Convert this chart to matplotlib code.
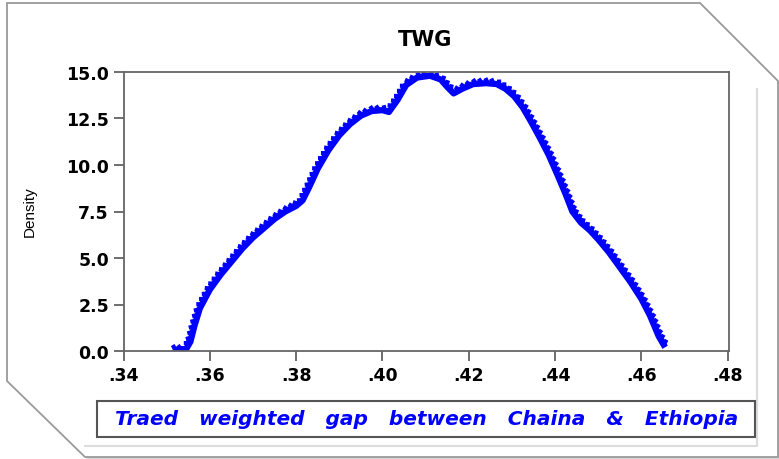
import matplotlib.pyplot as plt
from matplotlib import patheffects
from matplotlib.patches import Polygon, Rectangle
from matplotlib.lines import Line2D

# density estimate
gap = [0.3514, 0.3530, 0.3545, 0.3555, 0.3565, 0.3577, 0.3600, 0.3625, 0.3650,
       0.3675, 0.3700, 0.3725, 0.3750, 0.3775, 0.3800, 0.3815, 0.3830, 0.3850,
       0.3875, 0.3900, 0.3925, 0.3950, 0.3975, 0.4000, 0.4015, 0.4035, 0.4055,
       0.4080, 0.4110, 0.4135, 0.4150, 0.4165, 0.4185, 0.4210, 0.4240, 0.4265,
       0.4285, 0.4305, 0.4325, 0.4345, 0.4365, 0.4385, 0.4405, 0.4425, 0.4440,
       0.4460, 0.4480, 0.4500, 0.4525, 0.4550, 0.4575, 0.4600, 0.4620, 0.4640,
       0.4655]
density = [0.05, 0.05, 0.1, 0.5, 1.4, 2.3, 3.3, 4.1, 4.8,
           5.5, 6.1, 6.6, 7.1, 7.5, 7.8, 8.1, 8.8, 9.8,
           10.8, 11.6, 12.2, 12.65, 12.9, 12.95, 12.85, 13.5, 14.3,
           14.7, 14.8, 14.6, 14.2, 13.85, 14.1, 14.35, 14.4, 14.35,
           14.1, 13.7, 13.1, 12.3, 11.45, 10.55, 9.5, 8.4, 7.5,
           6.9, 6.5, 6.0, 5.3, 4.5, 3.7, 2.8, 1.9, 0.8,
           0.2]

xticks = [0.34, 0.36, 0.38, 0.40, 0.42, 0.44, 0.46, 0.48]
xtick_labels = [".34", ".36", ".38", ".40", ".42", ".44", ".46", ".48"]
yticks = [0.0, 2.5, 5.0, 7.5, 10.0, 12.5, 15.0]
ytick_labels = ["0.0", "2.5", "5.0", "7.5", "10.0", "12.5", "15.0"]

title = "TWG"
ylabel = "Density"
caption = "Traed   weighted   gap   between   Chaina   &   Ethiopia"

W, H = 779, 460
plt.rcParams['font.family'] = ['Liberation Sans', 'DejaVu Sans']
wide = ['DejaVu Sans']


def fx(px):
    return px / W


def fy(py):
    return 1 - py / H


fig = plt.figure(figsize=(W / 100, H / 100), dpi=100)

# decorative frame with bevelled corners
outline = [(7, 4), (700, 4), (778, 82), (778, 458), (85, 458), (7, 382)]
shadow = Polygon([(fx(x + 3), fy(y + 3)) for x, y in outline], closed=True,
                 transform=fig.transFigure, facecolor="#d8d8d8", edgecolor="none",
                 zorder=0)
frame = Polygon([(fx(x), fy(y)) for x, y in outline], closed=True,
                transform=fig.transFigure, facecolor="white", edgecolor="#9a9a9a",
                linewidth=1.3, zorder=0.5)
fig.patches.extend([shadow, frame])
fig.lines.append(Line2D([fx(757), fx(757), fx(85)], [fy(90), fy(447), fy(447)],
                        transform=fig.transFigure, color="#dcdcdc", linewidth=1.5,
                        zorder=0.6))

ax = fig.add_axes([fx(123.5), fy(352), fx(729) - fx(123.5), fy(73) - fy(352)])
ax.set_zorder(2)

ax.plot(gap, density, color="#0000ff", linewidth=4.5, solid_capstyle="butt",
        path_effects=[patheffects.withTickedStroke(spacing=4.2, angle=120,
                                                   length=1.0, linewidth=3)])

ax.set_xlim(0.34, 0.4803)
ax.set_ylim(0, 15)
ax.set_xticks(xticks)
ax.set_xticklabels(xtick_labels)
ax.set_yticks(yticks)
ax.set_yticklabels(ytick_labels)
ax.tick_params(direction="out", length=7, width=1.2, color="#555555",
               labelsize=12.5)
for lab in ax.get_xticklabels() + ax.get_yticklabels():
    lab.set_fontweight("bold")
    lab.set_family(wide)
for sp in ax.spines.values():
    sp.set_color("#666666")
    sp.set_linewidth(1.3)

fig.text(fx(425), fy(40), title, ha="center", va="center", fontsize=15,
         fontweight="bold", family=wide)
fig.text(fx(30), fy(212), ylabel, ha="center", va="center", rotation=90,
         fontsize=11)

# caption box under the plot
box = Rectangle((fx(97), fy(438)), fx(755) - fx(97), fy(402) - fy(438),
                transform=fig.transFigure, facecolor="white", edgecolor="#555555",
                linewidth=1.5, zorder=1)
fig.patches.append(box)
fig.text(fx(427), fy(420), caption, ha="center", va="center", fontsize=14.5,
         fontweight="bold", fontstyle="italic", color="#0000ff", zorder=2,
         family=wide)

fig.savefig("out.png", dpi=100)
